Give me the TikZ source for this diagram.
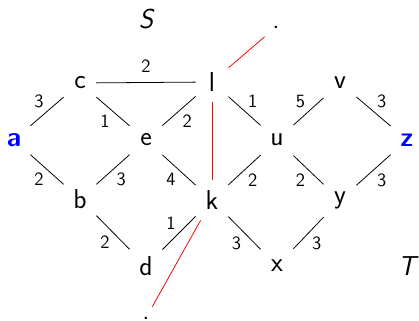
\documentclass[tikz,border=0pt]{standalone}
\usepackage{tikz}

\begin{document}
\begin{tikzpicture}[x=0.64pt, y=0.64pt, line join=round, line width=0.5pt,
    vtx/.style={minimum width=20.5pt, minimum height=25.6pt, inner sep=0pt,
      font=\sffamily\fontsize{17.5}{21}\selectfont},
    term/.style={vtx, text=blue, font=\sffamily\bfseries\fontsize{17.5}{21}\selectfont},
    side/.style={inner sep=0pt, font=\sffamily\itshape\fontsize{17.5}{21}\selectfont},
    endpt/.style={minimum size=14pt, inner sep=0pt,
      font=\sffamily\fontsize{17.5}{21}\selectfont},
    wt/.style={inner sep=2pt, font=\sffamily\fontsize{12}{14}\selectfont},
    overhead/.style={above=4pt},
    cut/.style={red}]
  \useasboundingbox (0,0) rectangle (419,321);
  % vertices
  \foreach \n/\cx/\cy in {c/80/238, l/212/239, v/340/238,
                          e/146/181, u/277/181,
                          b/80/122, k/212/121, y/340/121,
                          d/146/55, x/277/55}{
    \node[vtx] (\n) at (\cx,\cy) {\n};
  }
  \node[term] (a) at (14,181) {a};
  \node[term] (z) at (407,181) {z};
  \node[side] (S) at (146,302) {S};
  \node[side] (T) at (407,55) {T};
  \node[endpt] (top) at (276,294) {.};
  \node[endpt] (bot) at (146,3) {.};
  % weighted edges
  \foreach \p/\q/\w/\pos in {a/c/3/above left, a/b/2/below left,
      c/l/2/overhead, c/e/1/below left, e/l/2/below right,
      b/e/3/below right, e/k/4/below left, b/d/2/below left,
      d/k/1/above left, l/u/1/above right, k/u/2/below right,
      u/v/5/above left, v/z/3/above right, u/y/2/below left,
      y/z/3/below right, k/x/3/below left, x/y/3/below right}{
    \draw (\p) -- node[wt, \pos] {\w} (\q);
  }
  % the cut
  \draw[cut] (l) -- (top);
  \draw[cut] (l) -- (k);
  \draw[cut] (k) -- (bot);
\end{tikzpicture}
\end{document}
